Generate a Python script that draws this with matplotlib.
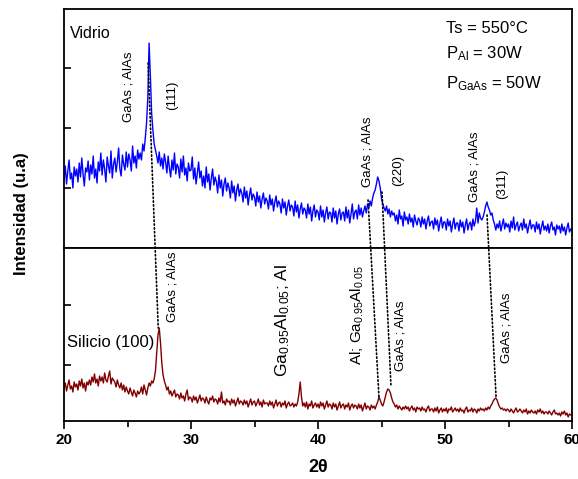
import numpy as np
import matplotlib
matplotlib.use("Agg")
import matplotlib.pyplot as plt
from matplotlib.patches import ConnectionPatch

plt.rcParams['font.family'] = ['Liberation Sans', 'DejaVu Sans']
plt.rcParams['mathtext.fontset'] = 'custom'
plt.rcParams['mathtext.rm'] = 'Liberation Sans'
plt.rcParams['mathtext.it'] = 'Liberation Sans:italic'
plt.rcParams['mathtext.bf'] = 'Liberation Sans:bold'

# 2theta grid: 20.0 .. 60.0 in 0.1 deg steps
two_theta = np.round(np.arange(200, 601) / 10.0, 1)

# Upper pattern: film on glass (Vidrio), arbitrary units
vidrio = [
    70, 82, 64, 77, 88, 69, 75, 60, 81, 72,
    79, 66, 85, 71, 90, 74, 62, 80, 76, 87,
    68, 83, 74, 92, 70, 79, 65, 86, 77, 95,
    73, 88, 79, 66, 91, 82, 75, 97, 70, 84,
    90, 76, 86, 100, 79, 72, 93, 84, 78, 96,
    81, 94, 88, 77, 102, 85, 92, 80, 98, 89,
    95, 88, 104, 97, 110, 125, 150, 205, 172, 135,
    118, 104, 98, 92, 85, 96, 82, 90, 79, 94,
    86, 75, 92, 80, 71, 88, 78, 95, 74, 84,
    81, 70, 89, 76, 92, 73, 80, 67, 85, 77,
    78, 91, 69, 80, 64, 75, 86, 70, 77, 62,
    72, 60, 81, 66, 74, 58, 70, 79, 63, 71,
    66, 55, 73, 60, 68, 52, 64, 70, 57, 65,
    60, 50, 67, 55, 62, 47, 58, 64, 52, 59,
    55, 46, 61, 50, 57, 43, 53, 60, 48, 54,
    51, 42, 56, 46, 52, 40, 49, 55, 44, 50,
    47, 39, 53, 43, 49, 37, 46, 52, 41, 47,
    44, 35, 49, 40, 46, 33, 42, 48, 37, 43,
    41, 32, 47, 36, 43, 30, 39, 45, 34, 40,
    38, 30, 44, 34, 41, 27, 37, 43, 31, 38,
    36, 28, 42, 31, 38, 26, 35, 41, 29, 36,
    35, 26, 40, 30, 37, 24, 34, 39, 28, 35,
    36, 27, 41, 30, 38, 25, 34, 44, 29, 36,
    38, 29, 43, 33, 40, 31, 37, 42, 35, 44,
    40, 47, 42, 50, 55, 58, 64, 71, 67, 60,
    50, 44, 40, 37, 42, 34, 39, 31, 37, 33,
    35, 27, 33, 24, 38, 29, 32, 22, 36, 28,
    31, 24, 34, 26, 30, 21, 33, 27, 23, 30,
    28, 21, 31, 24, 29, 19, 27, 32, 22, 26,
    27, 19, 30, 23, 28, 17, 25, 31, 20, 26,
    26, 18, 29, 22, 27, 16, 24, 30, 19, 25,
    25, 17, 28, 21, 26, 15, 23, 29, 18, 24,
    26, 18, 29, 22, 27, 40, 25, 35, 30, 28,
    31, 36, 42, 46, 41, 38, 33, 35, 28, 24,
    18, 24, 20, 27, 17, 23, 29, 19, 25, 21,
    24, 16, 27, 20, 31, 18, 23, 26, 17, 22,
    25, 18, 29, 20, 24, 15, 22, 28, 19, 23,
    23, 16, 26, 19, 24, 14, 21, 27, 18, 22,
    17, 24, 15, 22, 26, 18, 21, 13, 23, 19,
    22, 15, 24, 17, 21, 13, 20, 25, 16, 19,
    18,
]

# Lower pattern: film on Si(100), arbitrary units
silicio = [
    33, 38, 30, 36, 41, 32, 35, 29, 39, 34,
    37, 31, 40, 35, 42, 33, 38, 30, 39, 36,
    41, 36, 44, 39, 47, 38, 42, 35, 45, 40,
    44, 38, 48, 41, 39, 45, 50, 37, 43, 41,
    39, 34, 41, 36, 33, 38, 31, 36, 29, 34,
    30, 27, 33, 29, 25, 31, 28, 24, 30, 27,
    29, 34, 27, 36, 31, 26, 33, 38, 35, 40,
    38, 42, 50, 68, 86, 93, 78, 58, 46, 40,
    36, 31, 34, 27, 30, 25, 28, 31, 24, 27,
    26, 22, 28, 23, 25, 20, 27, 31, 21, 24,
    23, 19, 25, 21, 24, 18, 22, 26, 20, 23,
    22, 18, 24, 20, 17, 23, 21, 25, 19, 22,
    21, 17, 23, 19, 29, 18, 20, 16, 22, 19,
    20, 16, 22, 18, 21, 15, 19, 23, 17, 20,
    19, 16, 21, 17, 20, 14, 18, 22, 16, 19,
    20, 15, 18, 22, 16, 19, 14, 21, 17, 18,
    18, 15, 20, 16, 19, 13, 17, 21, 15, 18,
    19, 14, 18, 16, 20, 13, 17, 19, 15, 16,
    18, 14, 17, 15, 19, 27, 39, 24, 15, 18,
    14, 19, 12, 17, 15, 20, 13, 16, 18, 14,
    17, 13, 19, 15, 18, 12, 16, 20, 14, 17,
    16, 12, 18, 14, 17, 11, 15, 19, 13, 16,
    17, 12, 16, 14, 18, 11, 15, 17, 13, 16,
    15, 12, 17, 13, 16, 10, 14, 18, 12, 15,
    14, 11, 16, 13, 15, 12, 16, 19, 24, 21,
    17, 15, 19, 24, 29, 32, 31, 28, 23, 19,
    17, 14, 16, 12, 15, 13, 11, 14, 12, 15,
    12, 14, 10, 13, 15, 11, 13, 9, 14, 12,
    13, 10, 14, 11, 12, 9, 13, 15, 10, 12,
    12, 9, 13, 10, 14, 8, 11, 13, 9, 12,
    10, 13, 8, 12, 11, 14, 9, 11, 13, 10,
    12, 9, 13, 10, 11, 8, 12, 14, 9, 11,
    10, 13, 9, 12, 11, 8, 12, 10, 13, 11,
    12, 10, 13, 11, 14, 12, 15, 17, 20, 22,
    23, 21, 17, 14, 12, 13, 11, 12, 10, 12,
    11, 9, 12, 10, 8, 11, 13, 9, 10, 12,
    10, 8, 11, 9, 12, 7, 10, 8, 11, 9,
    8, 10, 7, 11, 9, 12, 8, 10, 7, 9,
    9, 7, 10, 8, 6, 9, 11, 7, 8, 6,
    8, 5, 9, 7, 10, 6, 8, 4, 7, 6,
    6,
]

# dotted guide lines: (2theta, intensity) on glass -> (2theta, intensity) on Si
guide_top_x = [26.62, 43.94, 45.04, 53.31]
guide_top_y = [185, 48, 56, 33]
guide_bot_x = [27.42, 44.80, 45.75, 54.02]
guide_bot_y = [93, 24, 34, 24]

x_ticks = [20, 30, 40, 50, 60]
x_minor = [25, 35, 45, 55]

W, H = 578, 479
fig = plt.figure(figsize=(W / 100, H / 100), dpi=100)
left, right = 64 / W, 572 / W
ax_top = fig.add_axes([left, 1 - 248 / H, right - left, (248 - 9) / H])
ax_bot = fig.add_axes([left, 1 - 421 / H, right - left, (421 - 248) / H])

ax_top.plot(two_theta, vidrio, color='#0000ff', lw=1.0)
ax_bot.plot(two_theta, silicio, color='#800000', lw=1.0)

for ax in (ax_top, ax_bot):
    ax.set_xlim(20, 60)
    for s in ax.spines.values():
        s.set_linewidth(1.3)
    ax.tick_params(axis='y', direction='in', length=5, width=1.2,
                   labelleft=False, left=True, right=False)

ax_top.set_ylim(0, 239)
ax_top.set_yticks([60, 120, 180])
ax_top.set_xticks([])

ax_bot.set_ylim(0, 173)
ax_bot.set_yticks([56, 116])
ax_bot.set_xticks(x_ticks)
ax_bot.set_xticks(x_minor, minor=True)
ax_bot.tick_params(axis='x', which='major', direction='out', length=6, width=1.2,
                   pad=3, labelsize=11)
ax_bot.tick_params(axis='x', which='minor', direction='out', length=4, width=1.2)
for lab in ax_bot.get_xticklabels():
    lab.set_fontweight('bold')

# guide lines
for xt, yt, xb, yb in zip(guide_top_x, guide_top_y, guide_bot_x, guide_bot_y):
    cp = ConnectionPatch(xyA=(xt, yt), coordsA=ax_top.transData,
                         xyB=(xb, yb), coordsB=ax_bot.transData,
                         color='black', lw=1.2, linestyle=(0, (0.8, 1.5)))
    fig.add_artist(cp)

# upper annotations
ax_top.text(20.47, 215, 'Vidrio', fontsize=11.5, ha='left', va='center')
ax_top.text(50.08, 215, 'Ts = 550°C', fontsize=12, ha='left', va='baseline')
ax_top.text(50.08, 190, r'P$_{\mathrm{Al}}$ = 30W', fontsize=12, ha='left', va='baseline')
ax_top.text(50.08, 160, r'P$_{\mathrm{GaAs}}$ = 50W', fontsize=12, ha='left', va='baseline')
rot_kw = dict(rotation=90, ha='center', va='center', fontsize=9.5)
ax_top.text(25.04, 161, 'GaAs ; AlAs', **rot_kw)
ax_top.text(28.5, 153, '(111)', **rot_kw)
ax_top.text(43.86, 96, 'GaAs ; AlAs', **rot_kw)
ax_top.text(46.3, 78, '(220)', **rot_kw)
ax_top.text(52.36, 81, 'GaAs ; AlAs', **rot_kw)
ax_top.text(54.49, 64, '(311)', **rot_kw)

# lower annotations
ax_bot.text(20.24, 78, 'Silicio (100)', fontsize=12, ha='left', va='center')
ax_bot.text(28.58, 134, 'GaAs ; AlAs', **rot_kw)
ax_bot.text(37.24, 101, r'Ga$_{0.95}$Al$_{0.05}$; Al', rotation=90,
            ha='center', va='center', fontsize=12.5)
ax_bot.text(43.07, 106, r'Al; Ga$_{0.95}$Al$_{0.05}$', rotation=90,
            ha='center', va='center', fontsize=11)
ax_bot.text(46.46, 85, 'GaAs ; AlAs', **rot_kw)
ax_bot.text(54.88, 93, 'GaAs ; AlAs', **rot_kw)

fig.text(22 / W, 1 - 214 / H, 'Intensidad (u.a)', rotation=90, ha='center',
         va='center', fontsize=12, fontweight='bold')
fig.text(318 / W, 1 - 467 / H, '2θ', ha='center', va='center',
         fontsize=13, fontweight='bold')

fig.savefig('out.png', dpi=100)
